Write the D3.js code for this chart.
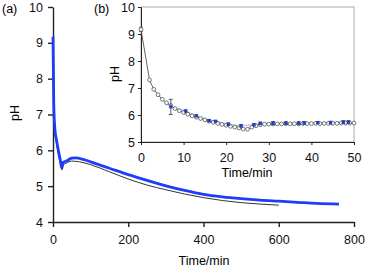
<!DOCTYPE html>
<html>
<head>
<meta charset="utf-8">
<script src="https://cdn.jsdelivr.net/npm/d3@7"></script>
<style>
  body { margin: 0; background: #fff; }
  svg { display: block; font-family: "Liberation Sans", Arial, sans-serif; }
  .axis path, .axis line { stroke: #222; }
  .axis text { font-size: 12.5px; fill: #111; }
</style>
</head>
<body>
<script>
// main panel (a): long-run pH curves
var blueTime = [0, 2, 5, 10, 15, 20, 23, 27, 35, 50, 60, 80, 100, 150, 200, 250, 300, 350, 400, 450, 500, 550, 600, 650, 700, 760];
var bluePH   = [9.17, 7.3, 6.6, 6.25, 5.95, 5.7, 5.52, 5.66, 5.7, 5.78, 5.79, 5.75, 5.68, 5.5, 5.32, 5.16, 5.01, 4.88, 4.77, 4.7, 4.65, 4.61, 4.58, 4.55, 4.52, 4.5];

var blackTime = [0, 2, 5, 10, 15, 20, 24, 28, 35, 50, 70, 100, 150, 200, 250, 300, 350, 400, 450, 500, 550, 600];
var blackPH   = [9.1, 7.2, 6.5, 6.15, 5.85, 5.6, 5.45, 5.6, 5.64, 5.7, 5.68, 5.6, 5.4, 5.2, 5.03, 4.9, 4.78, 4.68, 4.6, 4.54, 4.5, 4.47];

// inset panel (b): first 50 min
var insetTime = [0, 2, 3, 4, 5, 6, 7, 8, 9, 10, 11, 12, 13, 14, 15, 16, 17, 18, 19, 20, 21, 22, 23, 24, 25,
                 26, 27, 28, 29, 30, 31, 32, 33, 34, 35, 36, 37, 38, 39, 40, 41, 42, 43, 44, 45, 46, 47, 48, 49, 50];
var insetPH   = [9.17, 7.3, 6.95, 6.75, 6.58, 6.45, 6.35, 6.24, 6.16, 6.09, 6.03, 5.97, 5.92, 5.87, 5.82, 5.77, 5.73, 5.69, 5.65, 5.62, 5.58, 5.55, 5.52, 5.48, 5.47,
                 5.55, 5.6, 5.64, 5.66, 5.66, 5.67, 5.67, 5.67, 5.68, 5.67, 5.68, 5.67, 5.68, 5.68, 5.68, 5.69, 5.68, 5.69, 5.69, 5.69, 5.69, 5.7, 5.7, 5.7, 5.7];

var repTime = [7, 10.5, 13, 16, 17.5, 20.5, 23.5, 26.5, 28, 31, 34, 37, 38.3, 41.5, 44.5, 47.5, 48.7];
var repPH   = [6.3, 6.15, 5.97, 5.79, 5.77, 5.66, 5.6, 5.64, 5.69, 5.7, 5.7, 5.7, 5.71, 5.72, 5.72, 5.74, 5.74];
var repErr  = [0.28, 0.04, 0.04, 0.04, 0.03, 0.05, 0.05, 0.04, 0.05, 0.06, 0.05, 0.05, 0.05, 0.04, 0.05, 0.05, 0.05];

var mainXTicks = [0, 200, 400, 600, 800];
var mainYTicks = [4, 5, 6, 7, 8, 9, 10];
var insetXTicks = [0, 10, 20, 30, 40, 50];
var insetYTicks = [5, 6, 7, 8, 9, 10];

var width = 365, height = 267;

var svg = d3.select("body").append("svg")
    .attr("width", width)
    .attr("height", height);

//scales for main panel
var x = d3.scaleLinear().domain([0, 800]).range([53, 354]);
var y = d3.scaleLinear().domain([4, 10]).range([222, 7]);

//scales for inset
var xi = d3.scaleLinear().domain([0, 50]).range([141, 354]);
var yi = d3.scaleLinear().domain([5, 10]).range([142, 7]);

var fmt = d3.format("d");

function zip(a, b){ return a.map(function(d, i){ return [d, b[i]]; }); }

//main axes
svg.append("g")
    .attr("class", "axis")
    .attr("transform", "translate(0,222)")
    .call(d3.axisBottom(x).tickValues(mainXTicks).tickFormat(fmt).tickSize(5).tickSizeOuter(0).tickPadding(8))
    .call(function(g){ g.selectAll("path, line").attr("stroke-width", 1.4); });

svg.append("g")
    .attr("class", "axis")
    .attr("transform", "translate(53,0)")
    .call(d3.axisLeft(y).tickValues(mainYTicks).tickFormat(fmt).tickSize(5).tickSizeOuter(0).tickPadding(5))
    .call(function(g){ g.selectAll("path, line").attr("stroke-width", 1.4); });

//main lines
var mainLine = d3.line().x(function(d){ return x(d[0]); }).y(function(d){ return y(d[1]); })
    .curve(d3.curveMonotoneX);

svg.append("path")
    .datum(zip(blackTime, blackPH))
    .attr("fill", "none")
    .attr("stroke", "#333")
    .attr("stroke-width", 1)
    .attr("d", mainLine);

svg.append("path")
    .datum(zip(blueTime, bluePH))
    .attr("fill", "none")
    .attr("stroke", "#1e3cfa")
    .attr("stroke-width", 2.8)
    .attr("d", mainLine);

//labels for main
svg.append("text").attr("x", 2).attr("y", 13).attr("font-size", 12.5).text("(a)");
svg.append("text").attr("x", 204).attr("y", 265).attr("font-size", 12.5)
    .attr("text-anchor", "middle").text("Time/min");
svg.append("text").attr("transform", "translate(19,113) rotate(-90)")
    .attr("font-size", 12.5).attr("text-anchor", "middle").text("pH");

//inset frame
var inset = svg.append("g");
inset.append("rect")
    .attr("x", xi(0)).attr("y", yi(10))
    .attr("width", xi(50) - xi(0)).attr("height", yi(5) - yi(10))
    .attr("fill", "#fff")
    .attr("stroke", "#aaa")
    .attr("stroke-width", 1);

inset.append("g")
    .attr("class", "axis")
    .attr("transform", "translate(0,142)")
    .call(d3.axisBottom(xi).tickValues(insetXTicks).tickFormat(fmt).tickSize(3).tickSizeOuter(0).tickPadding(8))
    .call(function(g){ g.selectAll("path, line").attr("stroke", "#444"); });

inset.append("g")
    .attr("class", "axis")
    .attr("transform", "translate(141,0)")
    .call(d3.axisLeft(yi).tickValues(insetYTicks).tickFormat(fmt).tickSize(3).tickSizeOuter(0).tickPadding(3))
    .call(function(g){ g.selectAll("path, line").attr("stroke", "#444"); });

var insetLine = d3.line().x(function(d){ return xi(d[0]); }).y(function(d){ return yi(d[1]); });

//replicate series (blue)
inset.append("path")
    .datum(zip(repTime, repPH))
    .attr("fill", "none")
    .attr("stroke", "#a9b8ff")
    .attr("stroke-width", 1)
    .attr("d", insetLine);

//black open-circle series
inset.append("path")
    .datum(zip(insetTime, insetPH))
    .attr("fill", "none")
    .attr("stroke", "#555")
    .attr("stroke-width", 0.9)
    .attr("d", insetLine);

//start point error bar
inset.append("g").attr("stroke", "#555").attr("stroke-width", 0.8)
    .call(function(g){
        g.append("line").attr("x1", xi(0)).attr("x2", xi(0)).attr("y1", yi(9.25)).attr("y2", yi(9.09));
        g.append("line").attr("x1", xi(0) - 2).attr("x2", xi(0) + 2).attr("y1", yi(9.25)).attr("y2", yi(9.25));
        g.append("line").attr("x1", xi(0) - 2).attr("x2", xi(0) + 2).attr("y1", yi(9.09)).attr("y2", yi(9.09));
    });

inset.selectAll(".pt")
    .data(zip(insetTime, insetPH))
    .enter()
    .append("circle")
    .attr("class", "pt")
    .attr("cx", function(d){ return xi(d[0]); })
    .attr("cy", function(d){ return yi(d[1]); })
    .attr("r", 1.9)
    .attr("fill", "#fff")
    .attr("stroke", "#555")
    .attr("stroke-width", 0.8);

//error bars
var errs = inset.selectAll(".err")
    .data(repTime.map(function(t, i){ return {t: t, v: repPH[i], e: repErr[i]}; }))
    .enter()
    .append("g")
    .attr("class", "err")
    .attr("stroke", "#333")
    .attr("stroke-width", 0.8);

errs.append("line")
    .attr("x1", function(d){ return xi(d.t); }).attr("x2", function(d){ return xi(d.t); })
    .attr("y1", function(d){ return yi(d.v + d.e); }).attr("y2", function(d){ return yi(d.v - d.e); });
errs.append("line")
    .attr("x1", function(d){ return xi(d.t) - 2; }).attr("x2", function(d){ return xi(d.t) + 2; })
    .attr("y1", function(d){ return yi(d.v + d.e); }).attr("y2", function(d){ return yi(d.v + d.e); });
errs.append("line")
    .attr("x1", function(d){ return xi(d.t) - 2; }).attr("x2", function(d){ return xi(d.t) + 2; })
    .attr("y1", function(d){ return yi(d.v - d.e); }).attr("y2", function(d){ return yi(d.v - d.e); });

inset.selectAll(".sq")
    .data(zip(repTime, repPH))
    .enter()
    .append("rect")
    .attr("class", "sq")
    .attr("x", function(d){ return xi(d[0]) - 1.5; })
    .attr("y", function(d){ return yi(d[1]) - 1.5; })
    .attr("width", 3)
    .attr("height", 3)
    .attr("fill", "#1f3ad6");

//inset labels
svg.append("text").attr("x", 94).attr("y", 13).attr("font-size", 12.5).text("(b)");
svg.append("text").attr("x", 247).attr("y", 177).attr("font-size", 12.5)
    .attr("text-anchor", "middle").text("Time/min");
svg.append("text").attr("transform", "translate(119,74) rotate(-90)")
    .attr("font-size", 12.5).attr("text-anchor", "middle").text("pH");
</script>
</body>
</html>
